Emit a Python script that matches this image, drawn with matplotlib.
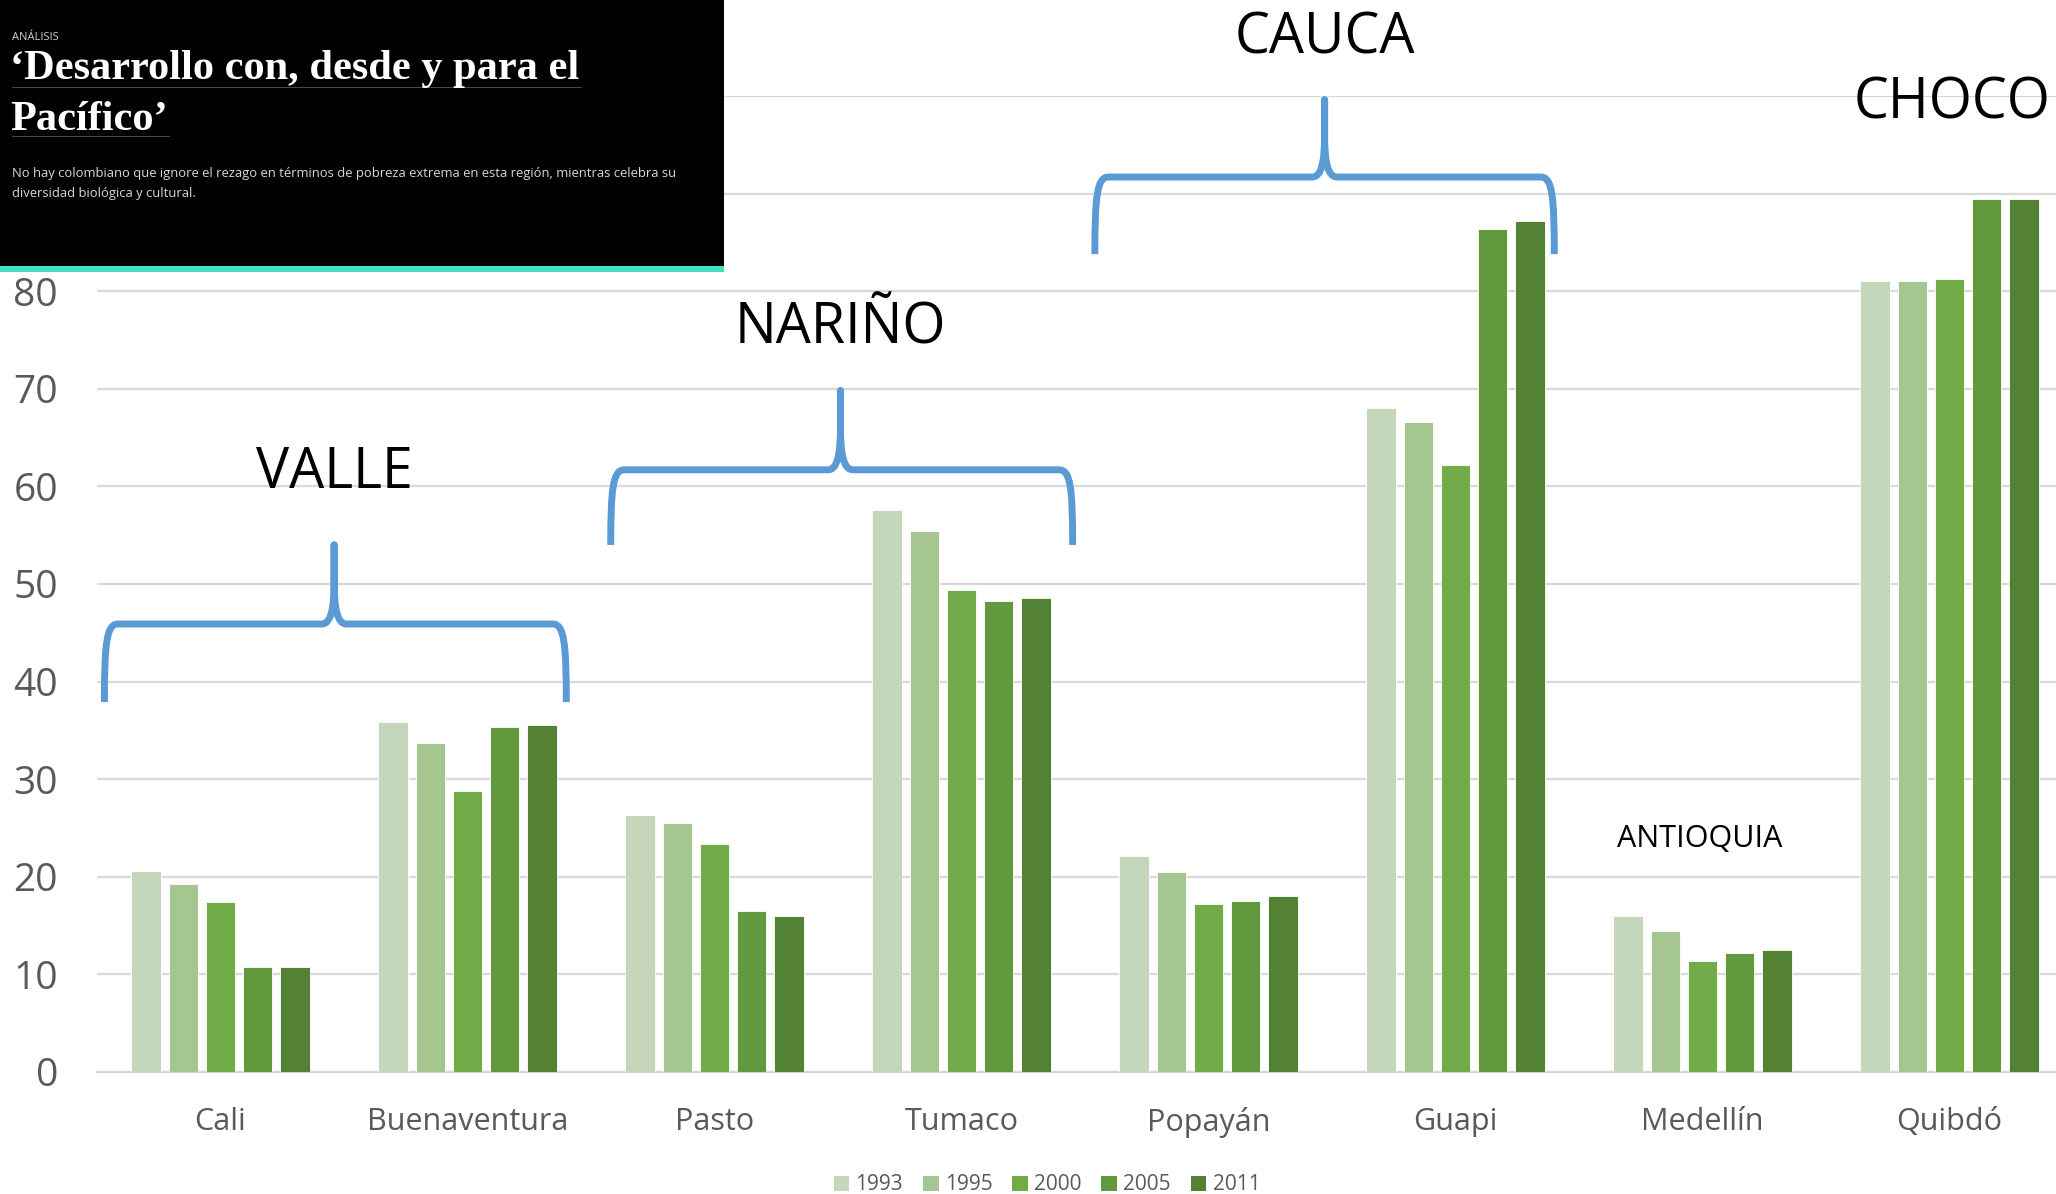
import numpy as np
import matplotlib
matplotlib.use("Agg")
import matplotlib.pyplot as plt
from matplotlib.patches import Rectangle, Patch, PathPatch
from matplotlib.path import Path

# Data
cities = ["Cali", "Buenaventura", "Pasto", "Tumaco", "Popayán", "Guapi", "Medellín", "Quibdó"]
years = ["1993", "1995", "2000", "2005", "2011"]
v1993 = [20.6, 35.9, 26.3, 57.6, 22.1, 68.0, 16.0, 81.0]
v1995 = [19.3, 33.7, 25.5, 55.4, 20.5, 66.6, 14.4, 81.0]
v2000 = [17.4, 28.8, 23.4, 49.4, 17.2, 62.2, 11.4, 81.3]
v2005 = [10.8, 35.3, 16.5, 48.3, 17.5, 86.4, 12.2, 89.4]
v2011 = [10.8, 35.6, 16.0, 48.6, 18.0, 87.2, 12.5, 89.4]
colors = ["#C5D7BB", "#A5C591", "#71AC48", "#62993E", "#548235"]
ytick_labels = ["0", "10", "20", "30", "40", "50", "60", "70", "80", "", ""]  # 90/100 sit under the header

# region braces: (label, left, right, centre, end y, bar y, tip y, label y)
braces = [
    ("VALLE", -0.47, 1.40, 0.46, 37.9, 45.9, 54.0, 61.3),
    ("NARIÑO", 1.58, 3.45, 2.51, 54.0, 61.7, 69.8, 76.1),
    ("CAUCA", 3.54, 5.40, 4.47, 83.8, 91.7, 99.6, 105.8),
]

plt.rcParams['font.family'] = ['Open Sans', 'DejaVu Sans']

fig = plt.figure(figsize=(20.56, 11.94), dpi=100)
ax = fig.add_axes([97 / 2056, 1 - 1072 / 1194, 1 - 97 / 2056, (1072 - 96) / 1194])

x = np.arange(len(cities))
series = [v1993, v1995, v2000, v2005, v2011]
pitch = 0.151
width = 0.119
for i, vals in enumerate(series):
    ax.bar(x + (i - 2) * pitch, vals, width, color=colors[i], edgecolor="white",
           linewidth=0.6, zorder=3, label=years[i])

ax.set_ylim(0, 100)
ax.set_xlim(-0.5, (2056 - 97) / 247 - 0.5)
ax.set_yticks(np.arange(0, 101, 10))
ax.set_yticklabels(ytick_labels)
ax.set_xticks(x)
ax.set_xticklabels(cities)
ax.grid(axis="y", color="#D9D9D9", linewidth=1.6, zorder=0)
ax.tick_params(axis="y", length=0, pad=28, labelsize=28, labelcolor="#595959")
ax.tick_params(axis="x", length=0, pad=25, labelsize=22, labelcolor="#595959")
for s in ["top", "right", "left"]:
    ax.spines[s].set_visible(False)
ax.spines["bottom"].set_color("#D9D9D9")
ax.spines["bottom"].set_linewidth(1.6)


def brace_path(xl, xr, xc, y_end, y_bar, y_tip):
    rx = 0.055   # corner width in x
    tx = 0.05    # tip flare width in x
    rise = y_tip - y_bar
    verts = [
        (xl, y_end),
        (xl, y_end + 0.75 * (y_bar - y_end)), (xl + 0.15 * rx, y_bar), (xl + rx, y_bar),
        (xc - tx, y_bar),
        (xc - 0.25 * tx, y_bar), (xc, y_bar + 0.2 * rise), (xc, y_bar + 0.55 * rise),
        (xc, y_tip),
        (xc, y_bar + 0.55 * rise),
        (xc, y_bar + 0.2 * rise), (xc + 0.25 * tx, y_bar), (xc + tx, y_bar),
        (xr - rx, y_bar),
        (xr - 0.15 * rx, y_bar), (xr, y_end + 0.75 * (y_bar - y_end)), (xr, y_end),
    ]
    codes = [Path.MOVETO,
             Path.CURVE4, Path.CURVE4, Path.CURVE4,
             Path.LINETO,
             Path.CURVE4, Path.CURVE4, Path.CURVE4,
             Path.LINETO,
             Path.LINETO,
             Path.CURVE4, Path.CURVE4, Path.CURVE4,
             Path.LINETO,
             Path.CURVE4, Path.CURVE4, Path.CURVE4]
    return Path(verts, codes)


for label, xl, xr, xc, y_end, y_bar, y_tip, y_lab in braces:
    p = PathPatch(brace_path(xl, xr, xc, y_end, y_bar, y_tip), facecolor="none",
                  edgecolor="#5B9BD5", linewidth=5, capstyle="butt", joinstyle="round",
                  zorder=4, clip_on=False)
    ax.add_patch(p)
    ax.text(xc, y_lab, label, ha="center", va="center", fontsize=40, color="black",
            zorder=5, clip_on=False)

ax.text(7.01, 99.2, "CHOCO", ha="center", va="center", fontsize=40, color="black",
        zorder=5, clip_on=False)
ax.text(5.99, 23.9, "ANTIOQUIA", ha="center", va="center", fontsize=22, color="black",
        zorder=5)

handles = [Patch(facecolor=c, edgecolor="none") for c in colors]
fig.legend(handles, years, loc="center", bbox_to_anchor=(1047 / 2056, 1 - 1185 / 1194),
           ncol=5, frameon=False, fontsize=15, labelcolor="#595959",
           handlelength=0.75, handleheight=0.75, handletextpad=0.3, columnspacing=0.95,
           borderpad=0.1)

# newspaper header pasted over the top left corner
fig.add_artist(Rectangle((0, 1 - 272 / 1194), 724 / 2056, 6 / 1194, transform=fig.transFigure,
                         facecolor="#45DEC0", edgecolor="none", zorder=10))
fig.add_artist(Rectangle((0, 1 - 266 / 1194), 724 / 2056, 266 / 1194, transform=fig.transFigure,
                         facecolor="black", edgecolor="none", zorder=10))
fig.text(12 / 2056, 1 - 38 / 1194, "ANÁLISIS", fontsize=8, color="#d0d0d0", va="center",
         zorder=11)
fig.text(10 / 2056, 1 - 79 / 1194, "‘Desarrollo con, desde y para el", fontsize=30.5,
         fontweight="bold", family="Liberation Serif", color="white", va="baseline", zorder=11)
fig.text(10 / 2056, 1 - 130 / 1194, "Pacífico’", fontsize=30.5,
         fontweight="bold", family="Liberation Serif", color="white", va="baseline", zorder=11)
fig.add_artist(Rectangle((12 / 2056, 1 - 88 / 1194), 570 / 2056, 1.5 / 1194,
                         transform=fig.transFigure, facecolor="#3c4c4a", edgecolor="none", zorder=11))
fig.add_artist(Rectangle((12 / 2056, 1 - 137 / 1194), 158 / 2056, 1.5 / 1194,
                         transform=fig.transFigure, facecolor="#3c4c4a", edgecolor="none", zorder=11))
fig.text(12 / 2056, 1 - 177 / 1194,
         "No hay colombiano que ignore el rezago en términos de pobreza extrema en esta región, mientras celebra su",
         fontsize=9.4, color="#d8d8d8", va="baseline", zorder=11)
fig.text(12 / 2056, 1 - 197 / 1194, "diversidad biológica y cultural.",
         fontsize=9.4, color="#d8d8d8", va="baseline", zorder=11)

fig.savefig("out.png", dpi=100)
